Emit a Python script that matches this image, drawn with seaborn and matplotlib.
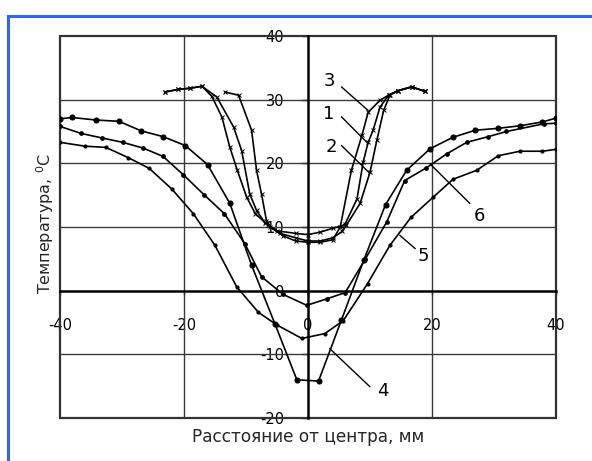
import matplotlib
matplotlib.use("Agg")
import matplotlib.pyplot as plt
import seaborn as sns
import numpy as np
import pandas as pd
from matplotlib.patches import Rectangle

# ---- data ----
x1 = [-23.1, -21, -19, -17.1, -14.7, -12.0, -10.7, -9.4, -8.3, -6.9, -5, -2, 0, 2, 4, 5.5, 6.0, 7.9, 8.9, 9.7, 10.5, 11.6, 13.0, 14.5, 16.7, 18.9]
y1 = [31.2, 31.6, 31.8, 32.1, 30.4, 25.7, 22.0, 15.2, 12.6, 10.6, 9.4, 9.0, 8.8, 9.2, 9.8, 10.2, 10.5, 14.4, 20.2, 23.3, 25.2, 28.8, 30.7, 31.4, 32.0, 31.3]

x2 = [-23.1, -21, -19, -17.1, -15.5, -13.9, -12.6, -11.4, -9.9, -8.5, -6.5, -4.5, -2, 0, 2, 4, 5.5, 6.2, 8.4, 10.0, 11.1, 12.2, 13.2, 14.5, 16.7, 18.9]
y2 = [31.2, 31.6, 31.8, 32.1, 30.5, 27.3, 22.5, 18.9, 14.7, 12.1, 10.3, 9.0, 8.3, 7.8, 7.8, 8.3, 9.3, 10.3, 13.7, 18.6, 23.6, 28.3, 30.7, 31.4, 32.0, 31.3]

x3 = [-13.4, -11.2, -9.1, -8.3, -7.5, -6.7, -6.1, -4, -2, 0, 2, 4, 5.2, 7.0, 8.7, 9.7, 11.6, 13.0, 14.5, 16.7, 18.9]
y3 = [31.2, 30.7, 25.2, 18.9, 15.2, 11.0, 10.0, 8.6, 7.8, 7.6, 7.6, 8.0, 10.0, 18.9, 24.4, 28.0, 29.9, 30.7, 31.4, 32.0, 31.3]

x4 = [-40, -38, -34.2, -30.5, -26.9, -23.4, -19.8, -16.2, -12.6, -9.1, -5.3, -1.8, 1.7, 5.4, 9.0, 12.5, 15.9, 19.7, 23.4, 27.0, 30.7, 34.2, 37.8, 40]
y4 = [27.0, 27.2, 26.8, 26.6, 25.1, 24.2, 22.8, 19.8, 13.7, 4.0, -5.3, -14.0, -14.2, -4.6, 4.8, 13.5, 18.9, 22.3, 24.1, 25.2, 25.5, 25.9, 26.5, 27.1]

x5 = [-40, -36, -32.6, -29, -25.6, -22, -18.5, -15, -11.5, -8, -5, -1, 2.7, 5.7, 9.6, 13.2, 16.6, 20.2, 23.4, 27.2, 30.7, 34.2, 37.8, 40]
y5 = [23.3, 22.7, 22.5, 20.9, 19.2, 16.0, 12.1, 7.1, 0.6, -3.4, -5.4, -7.5, -6.75, -4.7, 1.1, 7.1, 11.5, 14.7, 17.5, 18.9, 21.2, 21.9, 21.9, 22.2]

x6 = [-40, -36.6, -33.3, -29.9, -26.6, -23.4, -20.1, -16.8, -13.5, -10.2, -7.5, -4.0, -0.2, 3.0, 6.0, 9.2, 12.7, 15.6, 19.1, 22.4, 25.6, 29.1, 32.0, 38.0, 40]
y6 = [25.8, 24.7, 24.0, 23.3, 22.4, 21.1, 18.2, 15.1, 12.1, 7.4, 2.2, -0.6, -2.3, -1.3, -0.3, 4.9, 10.8, 17.3, 19.3, 21.5, 23.3, 24.2, 25.0, 26.2, 26.3]

x_ticks = [-40, -20, 0, 20, 40]
y_ticks = [40, 30, 20, 10, 0, -10, -20]

# label text, label position, arrow tip
curve_labels = ["3", "1", "2", "6", "5", "4"]
label_pos = [(3.4, 32.9), (3.4, 27.8), (3.8, 22.5), (27.7, 11.8), (18.6, 5.5), (12.0, -15.8)]
line_start = [(5.4, 32.0), (5.4, 27.3), (5.4, 22.8), (26.1, 13.7), (17.3, 6.6), (10.0, -15.1)]
line_end = [(9.7, 28.3), (9.7, 23.1), (10.0, 18.4), (19.7, 19.9), (14.8, 8.7), (3.5, -9.1)]

sns.set_theme(style="white")
plt.rcParams['font.family'] = ['DejaVu Sans']

fig = plt.figure(figsize=(5.92, 4.61), dpi=100)
ax = fig.add_axes([60/592, 43/461, 496/592, 382/461])

def draw(x, y, marker, ms, mew=0.8):
    df = pd.DataFrame({"x": x, "y": y})
    sns.lineplot(data=df, x="x", y="y", ax=ax, sort=False, estimator=None,
                 color="black", linewidth=1.2, marker=marker, markersize=ms,
                 markeredgecolor="black", markerfacecolor="black", markeredgewidth=mew,
                 zorder=5)

for xs, ys in [(x1, y1), (x2, y2), (x3, y3)]:
    draw(xs, ys, "x", 3.2, 0.7)
draw(x4, y4, "o", 3.6)
draw(x5, y5, "o", 2.2)
draw(x6, y6, "o", 2.6)

ax.set_xlim(-40, 40)
ax.set_ylim(-20, 40)

# grid
for gx in [-20, 20]:
    ax.axvline(gx, color="#3a3a3a", lw=1.0, zorder=1)
for gy in [30, 20, 10, -10]:
    ax.axhline(gy, color="#3a3a3a", lw=1.0, zorder=1)

# axes through zero
for s in ["top", "right"]:
    ax.spines[s].set_visible(False)
ax.spines["left"].set_position(("data", 0))
ax.spines["bottom"].set_position(("data", 0))
ax.spines["left"].set_linewidth(1.8)
ax.spines["bottom"].set_linewidth(1.8)
ax.spines["left"].set_color("black")
ax.spines["bottom"].set_color("black")
ax.spines["left"].set_zorder(2)
ax.spines["bottom"].set_zorder(2)

ax.add_patch(Rectangle((0, 0), 1, 1, transform=ax.transAxes, fill=False,
                       edgecolor="#333333", lw=1.6, clip_on=False, zorder=2))

ax.set_xticks(x_ticks)
ax.set_yticks(y_ticks)
ax.set_xticklabels([str(v) for v in x_ticks])
ax.set_yticklabels([str(v) for v in y_ticks])
ax.tick_params(axis="x", direction="out", length=3, width=1, pad=17, labelsize=10.5, colors="black", bottom=True)
ax.tick_params(axis="y", direction="out", length=4, width=1, pad=13, labelsize=10.5, colors="black", left=True)
ax.set_xlabel("")
ax.set_ylabel("")

for t, p, s, e in zip(curve_labels, label_pos, line_start, line_end):
    ax.plot([s[0], e[0]], [s[1], e[1]], color="black", lw=1.0, zorder=6)
    ax.text(p[0], p[1], t, fontsize=13, ha="center", va="center", color="black", zorder=7)

fig.text(308/592, 1 - 437/461, "Расстояние от центра, мм", ha="center", va="center", fontsize=12.2)
fig.text(45/592, 1 - 224/461, "Температура, $^{0}$С", ha="center", va="center", rotation=90, fontsize=11.5)

# blue frame around the figure (cut at right/bottom)
fig.patches.append(Rectangle((8/592, -0.1), 1.2, 1 - 16/461 + 0.1, transform=fig.transFigure,
                             fill=False, edgecolor="#3366ee", lw=2.2, clip_on=False))

fig.savefig("out.png", dpi=100)
